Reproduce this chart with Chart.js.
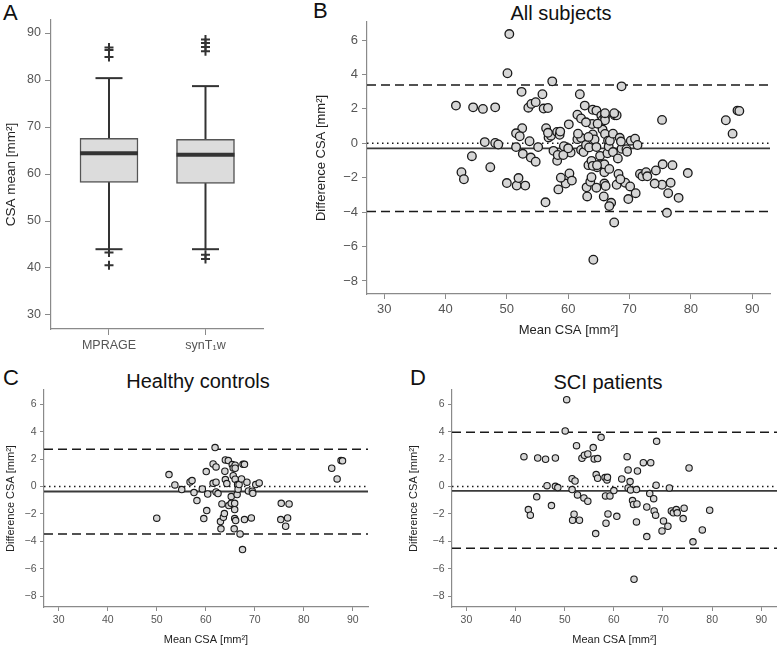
<!DOCTYPE html>
<html><head><meta charset="utf-8">
<script src="https://cdn.jsdelivr.net/npm/chart.js@4.4.1/dist/chart.umd.min.js"></script>
<style>
body{margin:0;background:#fff;width:777px;height:647px;position:relative;overflow:hidden;font-family:"Liberation Sans",Arial,sans-serif}
canvas{position:absolute}
.lbl{position:absolute;font-size:22px;color:#111;line-height:1}
.ttl{position:absolute;font-size:20px;color:#111;line-height:1;transform:translateX(-50%);white-space:nowrap}
</style></head><body>
<div class="lbl" style="left:3px;top:2px">A</div>
<div class="lbl" style="left:313px;top:0px">B</div>
<div class="lbl" style="left:3px;top:367px">C</div>
<div class="lbl" style="left:410px;top:367px">D</div>
<div class="ttl" style="left:561px;top:3px">All subjects</div>
<div class="ttl" style="left:198px;top:371px">Healthy controls</div>
<div class="ttl" style="left:608px;top:372px">SCI patients</div>
<canvas id="cA" width="280" height="360" style="left:0;top:0"></canvas>
<canvas id="cB" width="477" height="345" style="left:300px;top:0"></canvas>
<canvas id="cC" width="390" height="287" style="left:0;top:360px"></canvas>
<canvas id="cD" width="387" height="287" style="left:390px;top:360px"></canvas>
<script>
// ---------- Panel A: box plot data ----------
const boxCategories = ['MPRAGE', 'synT\u2081w'];
const boxQ1 = [58.2, 58.0];
const boxMedian = [64.4, 64.1];
const boxQ3 = [67.6, 67.4];
const whiskerLow = [44.0, 44.0];
const whiskerHigh = [80.4, 78.7];
const outliersMPRAGE = [86.9, 86.4, 84.9, 43.3, 40.6];
const outliersSynT1w = [88.6, 87.9, 87.0, 86.1, 42.8, 41.9];
const boxYTicks = [30, 40, 50, 60, 70, 80, 90];

// ---------- Bland-Altman data ----------
const hcMean = [50.0,52.5,53.7,55.1,56.8,57.2,57.6,58.2,59.3,59.6,60.1,60.2,60.4,61.5,61.5,61.9,62.1,62.1,62.1,62.5,63.0,63.1,63.3,63.6,63.8,63.9,64.0,64.0,64.3,64.6,64.7,65.2,65.2,65.4,65.6,65.6,65.8,65.9,65.9,65.9,66.0,66.0,66.0,66.1,66.4,66.5,66.6,66.8,67.0,67.3,67.5,67.6,67.9,67.9,68.4,68.7,69.3,69.5,69.6,70.2,70.9,75.4,75.3,76.7,76.3,77.0,85.7,86.8,87.6,87.9];
const hcDiff = [-2.31,0.88,0.12,-0.22,0.34,0.44,-0.44,-1.02,-0.17,-2.34,1.10,-1.75,-0.54,1.66,0.24,2.85,1.44,0.32,-0.39,-0.51,-2.56,-3.09,-1.27,-2.24,-1.97,1.12,1.95,0.51,0.22,1.90,-1.39,-0.73,-1.22,1.61,0.80,1.36,-3.09,-1.68,-1.22,-2.34,0.54,1.56,1.34,-2.48,-0.58,0.15,-0.19,0.15,-3.46,0.56,-4.60,1.63,1.63,-2.41,0.32,-0.32,-2.29,-0.34,-0.49,0.15,0.27,-1.22,-2.41,-2.29,-2.90,-1.27,1.34,0.56,1.90,1.88];
const sciMean = [41.7,42.6,43.0,44.3,44.5,46.1,46.4,47.3,48.1,48.1,48.6,50.4,50.1,51.5,51.5,51.6,51.9,52.1,52.4,52.6,53.0,53.5,54.0,53.9,54.7,54.7,55.8,56.0,56.3,56.4,56.7,56.7,57.4,58.2,58.3,58.4,58.6,58.7,58.8,59.2,60.0,60.6,61.6,62.7,62.9,62.9,63.3,63.4,63.8,64.0,64.1,64.6,64.6,64.7,64.8,66.0,66.7,66.7,67.3,67.5,68.1,68.2,68.5,68.6,68.7,69.8,70.1,71.0,71.3,71.7,72.1,72.7,72.9,74.1,74.3,75.3,76.1,78.0,79.5];
const sciDiff = [2.19,-1.68,-2.09,-0.75,2.09,2.00,0.07,-1.39,2.09,0.02,-0.07,6.35,4.07,-0.22,0.58,-2.46,-2.02,0.41,2.99,-0.61,-2.46,2.07,2.29,-0.83,2.39,-1.07,2.85,2.02,-3.43,0.88,2.05,0.61,3.60,0.66,-0.68,-2.68,0.49,0.68,-2.00,-0.68,-0.29,-2.17,0.56,2.19,1.22,-0.10,0.37,-0.24,-1.02,-1.31,-6.77,-2.58,-0.22,-1.27,1.14,1.75,-1.49,-3.65,-0.51,1.75,-0.88,-1.78,-2.09,0.10,3.31,-3.24,-2.51,-2.90,-0.10,-1.78,-1.92,-1.68,-1.92,-2.34,-1.58,1.36,-4.04,-3.17,-1.73];
const baXTicks = [30, 40, 50, 60, 70, 80, 90];
const baYTicks = [-8, -6, -4, -2, 0, 2, 4, 6];
// [upper limit of agreement, mean difference, lower limit of agreement]
const limitsAll = [3.39, -0.29, -3.97];
const limitsHC = [2.73, -0.36, -3.47];
const limitsSCI = [3.97, -0.31, -4.50];

Chart.defaults.font.family = '"Liberation Sans", Arial, sans-serif';
Chart.defaults.color = '#555';

const AXIS = '#8a8a8a';
const minus = v => String(v).replace('-', '\u2212');

// ---------- Panel A ----------
(function () {
  const xs = [1, 2];
  const outl = [];
  outliersMPRAGE.forEach(v => outl.push({x: 1, y: v}));
  outliersSynT1w.forEach(v => outl.push({x: 2, y: v}));
  const ds = [
    {type: 'bar', data: xs.map((x, i) => ({x: x, y: [boxQ1[i], boxQ3[i]]})),
     backgroundColor: '#dcdcdc', borderColor: '#555', borderWidth: 1.5, borderSkipped: false,
     barThickness: 58, order: 2},
    {type: 'scatter', data: xs.map((x, i) => ({x: x, y: boxMedian[i]})), pointStyle: 'line',
     pointRadius: 29, borderWidth: 4, borderColor: '#333', order: 0},
    {type: 'scatter', data: xs.map((x, i) => ({x: x, y: whiskerLow[i]})).concat(xs.map((x, i) => ({x: x, y: whiskerHigh[i]}))),
     pointStyle: 'line', pointRadius: 13.5, borderWidth: 2, borderColor: '#333', order: 0},
    {type: 'scatter', data: outl, pointStyle: 'cross', pointRadius: 4.5, borderWidth: 2, borderColor: '#333', order: 0}
  ];
  xs.forEach((x, i) => {
    ds.push({type: 'line', data: [{x: x, y: whiskerLow[i]}, {x: x, y: whiskerHigh[i]}],
      borderColor: '#333', borderWidth: 2, pointRadius: 0, fill: false, order: 3});
  });
  new Chart(document.getElementById('cA'), {
    type: 'scatter',
    data: {datasets: ds},
    options: {
      responsive: false, animation: false, devicePixelRatio: 1,
      layout: {autoPadding: false, padding: {left: 0, right: 17, top: 20, bottom: 0}},
      plugins: {legend: {display: false}, tooltip: {enabled: false}},
      scales: {
        x: {type: 'linear', min: 0.399, max: 2.596, offset: false,
            afterBuildTicks: s => { s.ticks = xs.map(v => ({value: v})); },
            afterFit: s => { s.height = 31; },
            ticks: {callback: v => boxCategories[Math.round(v) - 1], font: {size: 12.5}, color: '#555', padding: 3, maxRotation: 0},
            grid: {offset: false, drawOnChartArea: false, drawTicks: true, tickLength: 6, color: AXIS},
            border: {display: true, color: AXIS, width: 1.2}},
        y: {type: 'linear', min: 27.02, max: 92.77, beginAtZero: false,
            afterBuildTicks: s => { s.ticks = boxYTicks.map(v => ({value: v})); },
            afterFit: s => { s.width = 51; },
            ticks: {font: {size: 12.5}, color: '#555', padding: 4},
            grid: {drawOnChartArea: false, drawTicks: true, tickLength: 6, color: AXIS},
            border: {display: true, color: AXIS, width: 1.2},
            title: {display: true, text: 'CSA mean [mm\u00b2]', color: '#222', font: {size: 13.5}, padding: {top: 3.4, bottom: 0}}}
      }
    }
  });
})();

// ---------- Bland-Altman panels ----------
function baChart(id, means, diffs, limits, o) {
  const line = (v, dash, w, c) => ({type: 'line', data: [{x: o.xMin, y: v}, {x: o.xMax, y: v}],
    borderColor: c, borderWidth: w, borderDash: dash, pointRadius: 0, fill: false, order: 1});
  new Chart(document.getElementById(id), {
    type: 'scatter',
    data: {datasets: [
      {data: means.map((m, i) => ({x: m, y: diffs[i]})), backgroundColor: '#d6d6d6',
       borderColor: '#1a1a1a', borderWidth: o.bw, pointRadius: o.r, order: 0},
      line(limits[0], [9, 5], 1.5, '#1a1a1a'),
      line(0, [1.5, 3.5], 1.5, '#1a1a1a'),
      line(limits[1], [], 1.8, '#3a3a3a'),
      line(limits[2], [9, 5], 1.5, '#1a1a1a')
    ]},
    options: {
      responsive: false, animation: false, devicePixelRatio: 1,
      layout: {autoPadding: false, padding: {left: 0, right: o.padR, top: o.padT, bottom: 0}},
      plugins: {legend: {display: false}, tooltip: {enabled: false}},
      scales: {
        x: {type: 'linear', min: o.xMin, max: o.xMax,
            afterBuildTicks: s => { s.ticks = baXTicks.map(v => ({value: v})); },
            afterFit: s => { s.height = o.xH; },
            ticks: {font: {size: o.tf}, color: '#555', padding: 3, maxRotation: 0},
            grid: {drawOnChartArea: false, drawTicks: true, tickLength: o.tl, color: AXIS},
            border: {display: true, color: AXIS, width: 1.2},
            title: {display: true, text: 'Mean CSA [mm\u00b2]', color: '#222', font: {size: o.af}, padding: {top: 0, bottom: o.xtPad}}},
        y: {type: 'linear', min: o.yMin, max: o.yMax,
            afterBuildTicks: s => { s.ticks = baYTicks.map(v => ({value: v})); },
            afterFit: s => { s.width = o.yW; },
            ticks: {font: {size: o.tf}, color: '#555', padding: o.tp, callback: v => minus(v)},
            grid: {drawOnChartArea: false, drawTicks: true, tickLength: o.tl, color: AXIS},
            border: {display: true, color: AXIS, width: 1.2},
            title: {display: true, text: 'Difference CSA [mm\u00b2]', color: '#222', font: {size: o.af}, padding: {top: o.ytPad, bottom: 0}}}
      }
    }
  });
}

baChart('cB', hcMean.concat(sciMean), hcDiff.concat(sciDiff), limitsAll,
  {xMin: 27.2, xMax: 92.9, yMin: -8.76, yMax: 7.05, padR: 7, padT: 22, xH: 51, yW: 67,
   tf: 13, af: 13, tl: 5, tp: 4, xtPad: 6.6, ytPad: 13.6, r: 4.3, bw: 1.3});
baChart('cC', hcMean, hcDiff, limitsHC,
  {xMin: 27.0, xMax: 93.1, yMin: -8.8, yMax: 7.06, padR: 22, padT: 30, xH: 40, yW: 44,
   tf: 10.5, af: 11, tl: 4, tp: 3.5, xtPad: 0.8, ytPad: 4.8, r: 3.2, bw: 1.1});
baChart('cD', sciMean, sciDiff, limitsSCI,
  {xMin: 27.06, xMax: 93.2, yMin: -8.8, yMax: 7.06, padR: 0, padT: 30, xH: 40, yW: 62,
   tf: 10.5, af: 11, tl: 4, tp: 3.5, xtPad: 0.8, ytPad: 17.8, r: 3.2, bw: 1.1});
</script>
</body></html>
